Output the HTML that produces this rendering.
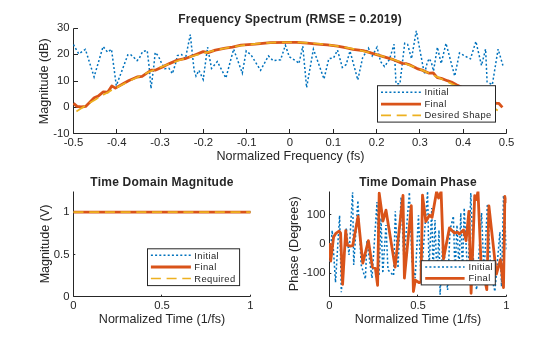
<!DOCTYPE html>
<html><head><meta charset="utf-8"><style>
html,body{margin:0;padding:0;background:#fff;}
svg{display:block;will-change:transform;}
text{font-family:"Liberation Sans",sans-serif;fill:#262626;}
.t{font-size:11.3px;}
.lb{font-size:12.57px;}
.ti{font-size:12px;font-weight:bold;fill:#262626;letter-spacing:0.23px;}
.lg{font-size:9.4px;letter-spacing:0.4px;}
</style></head><body>
<svg width="560" height="337" viewBox="0 0 560 337">
<rect width="560" height="337" fill="#fff"/>
<path d="M73.5,28.5 V133.5 H506.5" fill="none" stroke="#262626" stroke-width="1"/>
<line x1="73.50" y1="133.5" x2="73.50" y2="129.0" stroke="#262626"/>
<line x1="116.50" y1="133.5" x2="116.50" y2="129.0" stroke="#262626"/>
<line x1="160.50" y1="133.5" x2="160.50" y2="129.0" stroke="#262626"/>
<line x1="203.50" y1="133.5" x2="203.50" y2="129.0" stroke="#262626"/>
<line x1="246.50" y1="133.5" x2="246.50" y2="129.0" stroke="#262626"/>
<line x1="289.50" y1="133.5" x2="289.50" y2="129.0" stroke="#262626"/>
<line x1="333.50" y1="133.5" x2="333.50" y2="129.0" stroke="#262626"/>
<line x1="376.50" y1="133.5" x2="376.50" y2="129.0" stroke="#262626"/>
<line x1="419.50" y1="133.5" x2="419.50" y2="129.0" stroke="#262626"/>
<line x1="463.50" y1="133.5" x2="463.50" y2="129.0" stroke="#262626"/>
<line x1="506.50" y1="133.5" x2="506.50" y2="129.0" stroke="#262626"/>
<line x1="73.5" y1="28.50" x2="78.0" y2="28.50" stroke="#262626"/>
<line x1="73.5" y1="54.50" x2="78.0" y2="54.50" stroke="#262626"/>
<line x1="73.5" y1="81.50" x2="78.0" y2="81.50" stroke="#262626"/>
<line x1="73.5" y1="107.50" x2="78.0" y2="107.50" stroke="#262626"/>
<line x1="73.5" y1="133.50" x2="78.0" y2="133.50" stroke="#262626"/>
<clipPath id="c1"><rect x="73.0" y="28.5" width="433.5" height="105.0"/></clipPath>
<g clip-path="url(#c1)">
<polyline points="73.50,44.50 75.00,47.50 78.80,53.80 85.40,49.40 94.10,76.90 103.10,46.50 107.60,52.20 111.50,49.30 116.30,85.70 127.90,54.70 130.50,54.50 133.50,57.10 137.10,60.60 139.10,58.60 142.60,51.50 147.20,50.50 149.20,67.20 151.00,88.60 153.70,67.20 155.20,52.50 158.30,56.00 161.30,62.60 164.80,68.70 168.90,68.20 172.40,73.70 175.40,64.10 177.40,55.50 181.50,54.50 185.40,58.80 190.30,34.60 194.10,70.30 196.00,76.10 198.90,70.30 203.20,79.50 207.60,47.20 211.50,68.40 217.30,61.60 225.90,78.00 233.60,49.10 242.30,73.20 246.20,51.00 251.00,54.90 260.60,70.30 268.40,55.90 273.20,60.70 280.60,59.70 285.40,45.30 289.30,56.80 297.00,61.60 298.90,63.60 302.80,46.20 306.60,87.70 313.40,49.10 324.00,79.00 328.80,58.80 333.60,57.80 337.50,50.10 342.30,67.40 346.20,64.50 350.00,51.00 357.80,80.00 362.60,57.80 368.40,48.10 372.20,55.90 377.00,47.20 380.60,61.60 384.50,66.50 389.30,59.70 394.10,44.30 396.00,83.80 399.90,83.80 404.70,43.30 407.60,44.30 411.50,58.80 416.30,30.80 424.40,74.00 427.40,62.00 429.40,58.60 431.50,63.00 433.50,71.00 437.40,47.20 441.20,63.60 446.00,43.30 454.70,76.10 459.50,53.00 466.30,56.80 470.50,58.80 475.90,41.40 481.50,65.50 485.60,49.10 487.10,81.90 492.30,84.80 498.10,49.10 502.90,65.50" fill="none" stroke="#0072BD" stroke-width="1.5" stroke-dasharray="2 2.2"/>
<polyline points="73.50,103.20 77.00,106.40 81.10,107.00 85.60,106.40 94.20,97.70 98.20,96.10 103.30,91.90 107.80,92.10 111.80,85.90 115.40,88.10 123.50,83.50 129.00,80.50 137.10,77.00 142.10,76.40 151.20,70.20 155.20,70.20 164.30,66.10 169.40,63.60 177.40,60.10 185.00,58.70 194.10,55.20 203.20,51.60 208.20,52.60 215.30,50.10 225.40,48.10 232.40,47.10 241.00,45.10 255.10,44.10 270.30,42.60 286.90,42.30 297.00,42.30 307.10,43.10 317.20,44.10 327.30,44.90 337.40,46.10 345.40,47.70 353.00,49.30 363.10,50.60 373.20,53.60 383.30,56.60 393.40,59.70 402.40,63.40 406.50,63.70 409.00,64.60 417.10,68.60 422.10,70.10 429.20,73.20 433.20,73.00 437.30,77.70 441.30,78.40 447.30,80.70 451.40,82.00 456.40,84.80 476.00,94.00 496.20,103.30 498.70,103.30 502.40,107.40" fill="none" stroke="#D95319" stroke-width="2.8" stroke-linejoin="round"/>
<polyline points="73.50,113.39 77.83,110.53 82.16,107.73 86.49,104.98 90.82,102.30 95.15,99.67 99.48,97.11 103.81,94.60 108.14,92.15 112.47,89.76 116.80,87.43 121.13,85.16 125.46,82.95 129.79,80.80 134.12,78.70 138.45,76.67 142.78,74.69 147.12,72.77 151.45,70.91 155.78,69.11 160.11,67.37 164.44,65.69 168.77,64.06 173.10,62.49 177.43,60.99 181.76,59.54 186.09,58.15 190.42,56.81 194.75,55.54 199.08,54.33 203.41,53.17 207.74,52.07 212.07,51.03 216.40,50.05 220.73,49.12 225.06,48.26 229.39,47.45 233.72,46.70 238.05,46.01 242.38,45.38 246.71,44.80 251.04,44.29 255.37,43.83 259.70,43.43 264.03,43.09 268.36,42.80 272.69,42.57 277.02,42.41 281.35,42.30 285.68,42.24 290.02,42.25 294.35,42.31 298.68,42.44 303.01,42.62 307.34,42.85 311.67,43.15 316.00,43.50 320.33,43.91 324.66,44.38 328.99,44.91 333.32,45.49 337.65,46.14 341.98,46.84 346.31,47.60 350.64,48.41 354.97,49.29 359.30,50.22 363.63,51.21 367.96,52.26 372.29,53.36 376.62,54.52 380.95,55.74 385.28,57.02 389.61,58.36 393.94,59.75 398.27,61.20 402.60,62.71 406.93,64.28 411.26,65.91 415.59,67.59 419.92,69.33 424.25,71.13 428.58,72.98 432.92,74.90 437.25,76.87 441.58,78.90 445.91,80.99 450.24,83.13 454.57,85.33 458.90,87.59 463.23,89.91 467.56,92.29 471.89,94.72 476.22,97.21 480.55,99.76 484.88,102.37 489.21,105.03 493.54,107.75 497.87,110.53 502.20,113.37" fill="none" stroke="#EDB120" stroke-width="1.7" stroke-dasharray="10 5.7" stroke-dashoffset="-3.5"/>
</g>
<text x="73.50" y="146.00" class="t" text-anchor="middle">-0.5</text>
<text x="116.80" y="146.00" class="t" text-anchor="middle">-0.4</text>
<text x="160.10" y="146.00" class="t" text-anchor="middle">-0.3</text>
<text x="203.40" y="146.00" class="t" text-anchor="middle">-0.2</text>
<text x="246.70" y="146.00" class="t" text-anchor="middle">-0.1</text>
<text x="290.00" y="146.00" class="t" text-anchor="middle">0</text>
<text x="333.30" y="146.00" class="t" text-anchor="middle">0.1</text>
<text x="376.60" y="146.00" class="t" text-anchor="middle">0.2</text>
<text x="419.90" y="146.00" class="t" text-anchor="middle">0.3</text>
<text x="463.20" y="146.00" class="t" text-anchor="middle">0.4</text>
<text x="506.50" y="146.00" class="t" text-anchor="middle">0.5</text>
<text x="69.50" y="31.00" class="t" text-anchor="end">30</text>
<text x="69.50" y="57.25" class="t" text-anchor="end">20</text>
<text x="69.50" y="83.50" class="t" text-anchor="end">10</text>
<text x="69.50" y="109.75" class="t" text-anchor="end">0</text>
<text x="69.50" y="137.00" class="t" text-anchor="end">-10</text>
<text x="290.10" y="22.50" class="ti" text-anchor="middle">Frequency Spectrum (RMSE = 0.2019)</text>
<text x="290.50" y="159.80" class="lb" text-anchor="middle">Normalized Frequency (fs)</text>
<text transform="translate(48,81.3) rotate(-90)" class="lb" text-anchor="middle">Magnitude (dB)</text>
<rect x="377.5" y="85.7" width="118.0" height="36.39999999999999" fill="#fff" stroke="#262626" stroke-width="1"/>
<polyline points="381.00,92.35 421.00,92.35" fill="none" stroke="#0072BD" stroke-width="1.5" stroke-dasharray="2 2.2"/>
<text x="424.40" y="95.10" class="lg" text-anchor="start">Initial</text>
<polyline points="381.00,104.10 421.00,104.10" fill="none" stroke="#D95319" stroke-width="2.8" stroke-linejoin="round"/>
<text x="424.40" y="106.60" class="lg" text-anchor="start">Final</text>
<polyline points="381.00,115.40 421.00,115.40" fill="none" stroke="#EDB120" stroke-width="1.7" stroke-dasharray="10 5.7" stroke-dashoffset="0"/>
<text x="424.40" y="117.90" class="lg" text-anchor="start">Desired Shape</text>
<path d="M73.5,191.5 V296.5 H250.5" fill="none" stroke="#262626" stroke-width="1"/>
<line x1="73.50" y1="296.5" x2="73.50" y2="294.7" stroke="#262626"/>
<line x1="73.5" y1="296.50" x2="75.3" y2="296.50" stroke="#262626"/>
<line x1="161.50" y1="296.5" x2="161.50" y2="294.7" stroke="#262626"/>
<line x1="73.5" y1="254.50" x2="75.3" y2="254.50" stroke="#262626"/>
<line x1="250.50" y1="296.5" x2="250.50" y2="294.7" stroke="#262626"/>
<line x1="73.5" y1="212.50" x2="75.3" y2="212.50" stroke="#262626"/>
<polyline points="73.50,212.10 250.50,212.10" fill="none" stroke="#0072BD" stroke-width="1.5" stroke-dasharray="2 2.2"/>
<polyline points="73.50,212.10 250.50,212.10" fill="none" stroke="#D95319" stroke-width="2.8" stroke-linejoin="round"/>
<polyline points="73.50,212.10 250.50,212.10" fill="none" stroke="#EDB120" stroke-width="1.7" stroke-dasharray="10 5.7" stroke-dashoffset="0"/>
<text x="73.50" y="309.00" class="t" text-anchor="middle">0</text>
<text x="69.50" y="300.00" class="t" text-anchor="end">0</text>
<text x="162.00" y="309.00" class="t" text-anchor="middle">0.5</text>
<text x="69.50" y="257.85" class="t" text-anchor="end">0.5</text>
<text x="250.50" y="309.00" class="t" text-anchor="middle">1</text>
<text x="69.50" y="214.70" class="t" text-anchor="end">1</text>
<text x="162.00" y="185.50" class="ti" text-anchor="middle">Time Domain Magnitude</text>
<text x="162.00" y="322.80" class="lb" text-anchor="middle">Normalized Time (1/fs)</text>
<text transform="translate(49.2,243.9) rotate(-90)" class="lb" text-anchor="middle">Magnitude (V)</text>
<rect x="147.5" y="248.8" width="92.1" height="36.80000000000001" fill="#fff" stroke="#262626" stroke-width="1"/>
<polyline points="150.90,255.20 190.90,255.20" fill="none" stroke="#0072BD" stroke-width="1.5" stroke-dasharray="2 2.2"/>
<text x="194.30" y="258.80" class="lg" text-anchor="start">Initial</text>
<polyline points="150.90,267.00 190.90,267.00" fill="none" stroke="#D95319" stroke-width="2.8" stroke-linejoin="round"/>
<text x="194.30" y="269.90" class="lg" text-anchor="start">Final</text>
<polyline points="150.90,278.50 190.90,278.50" fill="none" stroke="#EDB120" stroke-width="1.7" stroke-dasharray="10 5.7" stroke-dashoffset="0"/>
<text x="194.30" y="281.80" class="lg" text-anchor="start">Required</text>
<path d="M329.5,191.5 V296.5 H506.5" fill="none" stroke="#262626" stroke-width="1"/>
<line x1="329.50" y1="296.5" x2="329.50" y2="294.7" stroke="#262626"/>
<line x1="417.50" y1="296.5" x2="417.50" y2="294.7" stroke="#262626"/>
<line x1="506.50" y1="296.5" x2="506.50" y2="294.7" stroke="#262626"/>
<line x1="329.5" y1="214.50" x2="331.3" y2="214.50" stroke="#262626"/>
<line x1="329.5" y1="244.50" x2="331.3" y2="244.50" stroke="#262626"/>
<line x1="329.5" y1="273.50" x2="331.3" y2="273.50" stroke="#262626"/>
<clipPath id="c3"><rect x="329.0" y="191.5" width="177.5" height="105.0"/></clipPath>
<g clip-path="url(#c3)">
<polyline points="329.50,262.00 332.20,230.40 335.50,282.40 339.60,215.40 341.30,292.30 346.30,227.90 349.00,255.00 352.60,192.20 353.70,264.90 357.90,200.50 361.20,265.00 365.40,279.00 367.00,240.30 372.00,278.20 377.00,202.00 379.00,276.00 381.00,218.00 382.80,273.20 386.00,225.00 388.00,270.00 393.60,275.70 395.30,211.30 398.00,268.00 401.10,197.10 404.00,262.00 406.00,235.00 409.40,192.20 412.00,262.00 415.20,278.20 418.50,215.40 421.00,282.00 424.00,240.00 427.60,191.30 429.00,270.00 431.80,208.00 433.00,275.00 435.00,220.00 437.00,280.00 439.00,230.00 440.10,294.80 443.00,240.00 447.60,290.00 450.00,230.00 453.40,216.20 455.00,275.00 457.00,225.00 459.00,270.00 460.80,213.00 462.50,275.00 464.20,208.00 468.00,282.00 470.80,193.00 474.00,275.00 476.60,289.80 481.60,212.90 484.00,275.00 487.40,203.80 491.00,275.00 494.90,291.50 499.90,232.00 501.50,286.50 503.50,195.50 506.50,250.00" fill="none" stroke="#0072BD" stroke-width="1.5" stroke-dasharray="2 2.2"/>
<polyline points="329.50,243.00 330.70,261.00 333.60,237.10 336.10,233.10 339.10,231.10 340.60,233.10 342.60,284.30 345.70,230.60 347.20,245.20 350.20,246.20 352.70,245.70 358.10,216.30 362.80,263.10 368.40,240.70 372.40,267.10 375.40,268.60 377.60,285.30 379.20,193.20 383.00,221.00 386.00,210.20 395.10,267.10 403.00,195.30 404.40,278.00 411.30,205.70 413.40,291.50 415.30,280.20 419.30,282.70 421.00,282.00 422.50,195.20 425.80,221.50 429.50,215.20 432.10,217.30 436.60,191.50 438.60,198.10 441.10,191.50 443.50,259.00 449.40,228.00 454.40,233.10 457.40,232.10 459.40,234.10 463.50,230.10 466.10,240.70 468.90,211.50 471.10,293.30 474.70,195.60 476.20,199.60 478.00,191.50 481.00,262.00 486.80,289.70 488.90,205.90 496.40,274.20 500.40,259.60 503.50,287.50 504.90,196.30 507.00,203.00" fill="none" stroke="#D95319" stroke-width="2.8" stroke-linejoin="round"/>
</g>
<text x="329.50" y="309.00" class="t" text-anchor="middle">0</text>
<text x="418.00" y="309.00" class="t" text-anchor="middle">0.5</text>
<text x="506.50" y="309.00" class="t" text-anchor="middle">1</text>
<text x="325.50" y="218.33" class="t" text-anchor="end">100</text>
<text x="325.50" y="246.50" class="t" text-anchor="end">0</text>
<text x="325.50" y="275.67" class="t" text-anchor="end">-100</text>
<text x="418.00" y="185.50" class="ti" text-anchor="middle">Time Domain Phase</text>
<text x="418.00" y="322.80" class="lb" text-anchor="middle">Normalized Time (1/fs)</text>
<text transform="translate(298,243.75) rotate(-90)" class="lb" text-anchor="middle">Phase (Degrees)</text>
<rect x="421.25" y="260.7" width="74.05000000000001" height="24.19999999999999" fill="#fff" stroke="#262626" stroke-width="1"/>
<polyline points="425.20,266.90 464.60,266.90" fill="none" stroke="#0072BD" stroke-width="1.5" stroke-dasharray="2 2.2"/>
<text x="468.40" y="269.80" class="lg" text-anchor="start">Initial</text>
<polyline points="425.20,278.40 464.60,278.40" fill="none" stroke="#D95319" stroke-width="2.8" stroke-linejoin="round"/>
<text x="468.40" y="281.40" class="lg" text-anchor="start">Final</text>
</svg></body></html>
